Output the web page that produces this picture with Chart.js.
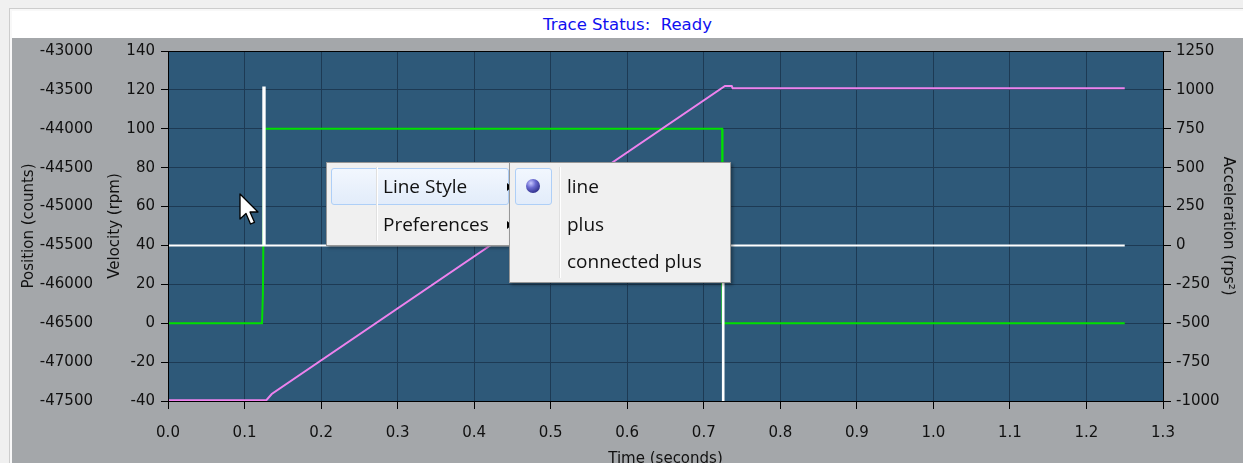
<!DOCTYPE html>
<html>
<head>
<meta charset="utf-8">
<title>Trace Status</title>
<script src="https://cdn.jsdelivr.net/npm/chart.js@4.4.1/dist/chart.umd.min.js"></script>
<style>
  html, body { margin: 0; padding: 0; width: 1243px; height: 463px; overflow: hidden; background: #f0f0f0; }
  #frame { position: absolute; left: 9px; top: 8px; right: 0; bottom: 0; border-left: 1px solid #cdcdcd; border-top: 1px solid #cdcdcd; background: #f8f8f8; }
  #band { position: absolute; left: 12px; top: 11px; width: 1231px; height: 27px; background: #ffffff;
          font: 16.5px "DejaVu Sans", sans-serif; color: #1010f0; text-align: center; line-height: 27px; }
  #panel { position: absolute; left: 12px; top: 38px; width: 1231px; height: 425px; background: #a4a7aa; }
  #chart { position: absolute; left: 12px; top: 31px; }
  .menu { position: absolute; background: #f0f0f0; border: 1px solid #979797; box-shadow: 2px 2px 3px rgba(0,0,0,0.35);
          font: 19px "Open Sans", sans-serif; color: #111; box-sizing: border-box; }
  .gutter { position: absolute; top: 4px; bottom: 4px; width: 1px; background: #e0e0e0; border-right: 1px solid #ffffff; }
  .hl { position: absolute; box-sizing: border-box; border: 1px solid #aecff7; border-radius: 3px;
        background: linear-gradient(#f2f7fe, #e2ecfa); }
  .item { position: absolute; height: 37px; line-height: 37px; white-space: nowrap; }
  .arrow { position: absolute; width: 0; height: 0; border-left: 5px solid #000; border-top: 4.5px solid transparent; border-bottom: 4.5px solid transparent; }
  .radio { position: absolute; width: 14px; height: 14px; border-radius: 50%;
           background: radial-gradient(circle at 35% 30%, #c8c8ff 0%, #6a6ad0 35%, #2c2c86 80%, #1e1e60 100%); }
  #cursor { position: absolute; left: 239px; top: 193px; }
</style>
</head>
<body>
<div id="frame"></div>
<div id="band">Trace Status:&nbsp;&nbsp;Ready</div>
<div id="panel"></div>
<canvas id="chart" width="1231" height="447"></canvas>

<!-- popup menu -->
<div class="menu" style="left:326px; top:162px; width:190px; height:84px;">
  <div class="hl" style="left:4px; top:5px; width:178px; height:37px;"></div>
  <div class="gutter" style="left:49px;"></div>
  <div class="item" style="left:56px; top:5px;">Line Style</div>
  <div class="arrow" style="left:180px; top:20px;"></div>
  <div class="item" style="left:56px; top:43px;">Preferences</div>
  <div class="arrow" style="left:180px; top:58px;"></div>
</div>
<div class="menu" style="left:509px; top:162px; width:222px; height:121px;">
  <div class="hl" style="left:5px; top:5px; width:37px; height:37px;"></div>
  <div class="radio" style="left:16px; top:16px;"></div>
  <div class="gutter" style="left:49px;"></div>
  <div class="item" style="left:57px; top:5px;">line</div>
  <div class="item" style="left:57px; top:43px;">plus</div>
  <div class="item" style="left:57px; top:80px;">connected plus</div>
</div>
<svg id="cursor" width="22" height="34" viewBox="0 0 22 34">
  <path d="M1 1 L1 26 L7 20.5 L11.5 31 L15.5 29.3 L11 19 L19 19 Z" fill="#ffffff" stroke="#000000" stroke-width="1.3" stroke-linejoin="round"/>
</svg>

<script>
// axis tick values
const timeTicks = [0.0, 0.1, 0.2, 0.3, 0.4, 0.5, 0.6, 0.7, 0.8, 0.9, 1.0, 1.1, 1.2, 1.3];
const velocityTicks = [-40, -20, 0, 20, 40, 60, 80, 100, 120, 140];
const positionTicks = [-47500, -47000, -46500, -46000, -45500, -45000, -44500, -44000, -43500, -43000];
const accelTicks = [-1000, -750, -500, -250, 0, 250, 500, 750, 1000, 1250];

// velocity trace (rpm)
const velocityTime = [0, 0.1228, 0.1240, 0.1258, 0.7240, 0.7245, 1.25];
const velocityRpm  = [0, 0, 15, 100, 100, 0, 0];

// position trace (counts)
const positionTime   = [0, 0.1285, 0.1355, 0.7277, 0.7365, 0.7378, 1.25];
const positionCounts = [-47490, -47490, -47410, -43450, -43450, -43480, -43480];

// acceleration trace (rps^2)
const accelTime = [0, 0.1245, 0.1245, 0.1263, 0.1263, 0.7250, 0.7250, 0.7258, 0.7258, 1.25];
const accelRps2 = [0, 0, 1015, 1015, 0, 0, -1000, -1000, 0, 0];

const zip = (xs, ys) => xs.map((x, i) => ({ x: x, y: ys[i] }));
const setTicks = arr => scale => { scale.ticks = arr.map(v => ({ value: v })); };

const FONT = { family: 'DejaVu Sans', size: 15 };
const INK = '#111111';
const GRID = '#1d3a54';

const plotFrame = {
  id: 'plotFrame',
  beforeDraw(chart) {
    const a = chart.chartArea, c = chart.ctx;
    c.save();
    c.fillStyle = '#2e5979';
    c.fillRect(a.left, a.top, a.right - a.left, a.bottom - a.top);
    c.restore();
  },
  afterDraw(chart) {
    const a = chart.chartArea, c = chart.ctx;
    c.save();
    c.strokeStyle = '#000000';
    c.lineWidth = 1;
    c.strokeRect(Math.round(a.left) + 0.5, Math.round(a.top) + 0.5,
                 Math.round(a.right - a.left), Math.round(a.bottom - a.top));
    c.restore();
  }
};

new Chart(document.getElementById('chart'), {
  type: 'line',
  data: {
    datasets: [
      { label: 'Acceleration', data: zip(accelTime, accelRps2), yAxisID: 'yAcc',
        borderColor: '#ffffff', borderWidth: 2 },
      { label: 'Position', data: zip(positionTime, positionCounts), yAxisID: 'yPos',
        borderColor: '#ee82ee', borderWidth: 2 },
      { label: 'Velocity', data: zip(velocityTime, velocityRpm), yAxisID: 'yVel',
        borderColor: '#00e000', borderWidth: 2 }
    ]
  },
  options: {
    responsive: false,
    animation: false,
    devicePixelRatio: 1,
    layout: { padding: { top: 20, left: 0, right: 0, bottom: 0 } },
    elements: { point: { radius: 0 }, line: { tension: 0, fill: false } },
    plugins: { legend: { display: false }, tooltip: { enabled: false } },
    scales: {
      x: {
        type: 'linear', position: 'bottom',
        min: timeTicks[0], max: timeTicks[timeTicks.length - 1],
        afterBuildTicks: setTicks(timeTicks),
        afterFit: s => { s.height = 77; },
        grid: { color: GRID, tickColor: '#000000', tickLength: 8 },
        border: { color: '#000000' },
        ticks: { font: FONT, color: INK, padding: 15, maxRotation: 0, autoSkip: false,
                 callback: v => Number(v).toFixed(1) },
        title: { display: true, text: 'Time (seconds)', font: FONT, color: INK, padding: { top: 0, bottom: 10 } }
      },
      yPos: {
        type: 'linear', position: 'left', weight: 1,
        min: positionTicks[0], max: positionTicks[positionTicks.length - 1],
        afterBuildTicks: setTicks(positionTicks),
        afterFit: s => { s.width = 90; },
        grid: { display: false, drawTicks: false },
        border: { display: false },
        ticks: { font: FONT, color: INK, padding: 9, autoSkip: false, callback: v => String(v) },
        title: { display: true, text: 'Position (counts)', font: FONT, color: INK, padding: { top: 8, bottom: 0 } }
      },
      yVel: {
        type: 'linear', position: 'left', weight: 0,
        min: velocityTicks[0], max: velocityTicks[velocityTicks.length - 1],
        afterBuildTicks: setTicks(velocityTicks),
        afterFit: s => { s.width = 66; },
        grid: { color: GRID, tickColor: '#000000', tickLength: 7 },
        border: { color: '#000000' },
        ticks: { font: FONT, color: INK, padding: 6, autoSkip: false, callback: v => String(v) },
        title: { display: true, text: 'Velocity (rpm)', font: FONT, color: INK, padding: { top: 4.5, bottom: 0 } }
      },
      yAcc: {
        type: 'linear', position: 'right',
        min: accelTicks[0], max: accelTicks[accelTicks.length - 1],
        afterBuildTicks: setTicks(accelTicks),
        afterFit: s => { s.width = 80; },
        grid: { drawOnChartArea: false, tickColor: '#000000', tickLength: 8 },
        border: { color: '#000000' },
        ticks: { font: FONT, color: INK, padding: 5, autoSkip: false, callback: v => String(v) },
        title: { display: true, text: 'Acceleration (rps²)', font: FONT, color: INK, padding: { top: 6, bottom: 0 } }
      }
    }
  },
  plugins: [plotFrame]
});
</script>
</body>
</html>
